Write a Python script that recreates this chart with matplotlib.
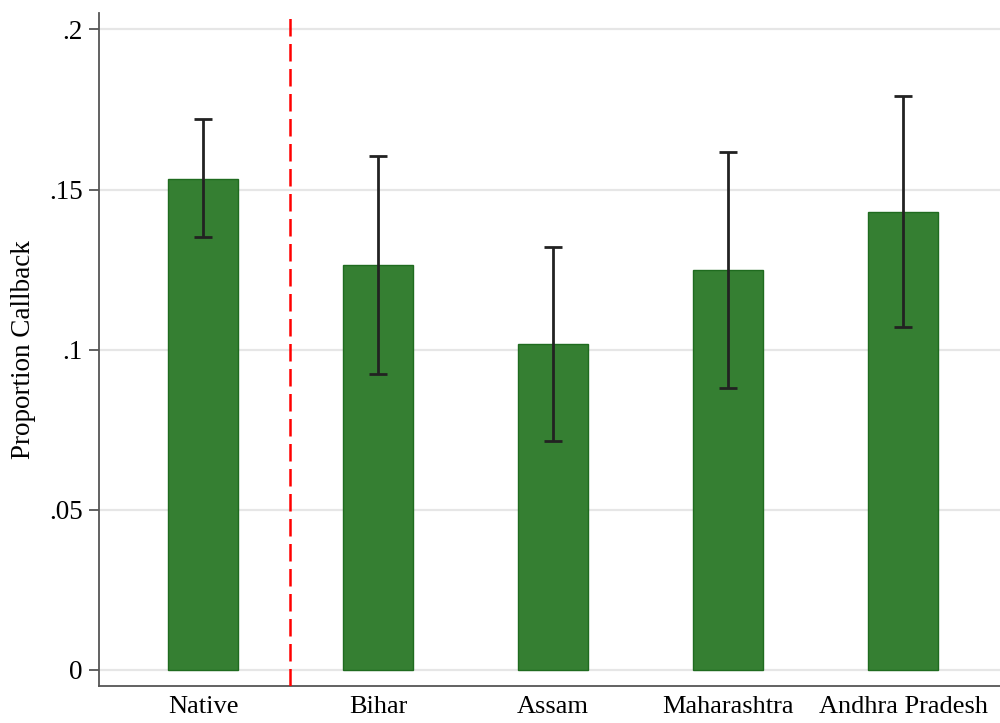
import matplotlib
matplotlib.use("Agg")
import matplotlib.pyplot as plt
import numpy as np

# Callback proportions by applicant origin, with 95% confidence bounds
groups = ["Native", "Bihar", "Assam", "Maharashtra", "Andhra Pradesh"]
callback = [0.1534, 0.1266, 0.1019, 0.1250, 0.1431]
ci_low = [0.1353, 0.0925, 0.0716, 0.0881, 0.1072]
ci_high = [0.1719, 0.1606, 0.1322, 0.1616, 0.1791]
yticks = [0, 0.05, 0.10, 0.15, 0.20]
ytick_labels = ["0", ".05", ".1", ".15", ".2"]

plt.rcParams["font.family"] = ["Liberation Serif", "DejaVu Serif"]

fig = plt.figure(figsize=(10, 7.23), dpi=100)
ax = fig.add_axes([0.0985, 37 / 723, 1 - 0.0985, (686 - 13) / 723])

x = np.arange(1, len(groups) + 1)
y = np.array(callback)
err = np.vstack([y - np.array(ci_low), np.array(ci_high) - y])

ax.bar(x, y, width=0.405, color="#357f32", edgecolor="#1f6b1f", linewidth=1.0, zorder=2)
ax.errorbar(x, y, yerr=err, fmt="none", ecolor="#222222", elinewidth=2.0,
            capsize=6.5, capthick=2.0, zorder=3)

# Separator between the native group and migrant origins
ax.axvline(1.5, color="#ff0000", linestyle=(0, (7, 3)), linewidth=1.8, zorder=4)

ax.set_xlim(0.403, 5.554)
ax.set_ylim(-0.005, 0.20515)
ax.set_yticks(yticks)
ax.set_yticklabels(ytick_labels)
ax.set_xticks(x)
ax.set_xticklabels(groups)

ax.yaxis.grid(True, color="#e6e6e6", linewidth=1.6, zorder=0)
ax.set_axisbelow(True)

for side in ("top", "right"):
    ax.spines[side].set_visible(False)
for side in ("left", "bottom"):
    ax.spines[side].set_color("#555555")
    ax.spines[side].set_linewidth(1.3)

ax.tick_params(axis="y", direction="out", length=7, width=1.3, color="#555555",
               labelsize=19.5, pad=4.5)
ax.tick_params(axis="x", length=0, labelsize=19, pad=7.5)

ax.set_ylabel("Proportion Callback", fontsize=19.5, labelpad=9)

fig.savefig("out.png", dpi=100)
